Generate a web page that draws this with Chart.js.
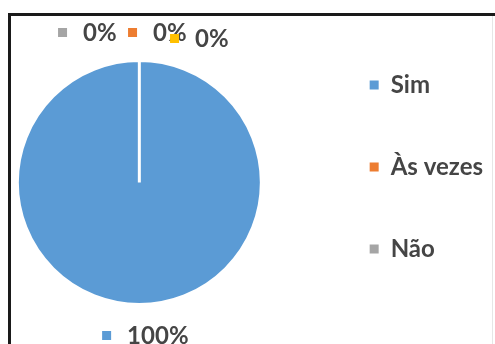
<!DOCTYPE html>
<html>
<head>
<meta charset="utf-8">
<script src="https://cdn.jsdelivr.net/npm/chart.js@4"></script>
<style>
  html, body { margin: 0; padding: 0; background: #fff; overflow: hidden; }
  body { width: 495px; height: 344px; position: relative; }
  #frame {
    position: absolute; left: 8px; top: 13px; width: 500px; height: 340px;
    border-top: 3px solid #1a1a1a; border-left: 3px solid #1a1a1a;
  }
  #edge { position: absolute; left: 492px; top: 16px; width: 1px; height: 328px; background: #e6e6e6; }
  #wrap { position: absolute; left: -33px; top: 0; width: 526px; height: 344px; }
</style>
</head>
<body>
<div id="frame"></div>
<div id="edge"></div>
<div id="wrap"><canvas id="pieChart" width="526" height="344"></canvas></div>
<script>
const categories = ['Sim', 'Às vezes', 'Não', ''];
const values = [100, 0, 0, 0];
const colors = ['#5b9bd5', '#ed7d31', '#a5a5a5', '#ffc000'];

// small nudges so the zero labels don't sit on top of each other (like Excel does)
const labelNudgeX = [6, 18, -52, 60];
const labelNudgeY = [3, 0, 0, 6];

const textFont = { family: 'Lato', size: 24, weight: 'bold' };
const textColor = '#454545';

const pctLabels = {
  id: 'pctLabels',
  afterDatasetsDraw(chart) {
    const ctx = chart.ctx;
    const meta = chart.getDatasetMeta(0);
    const total = values.reduce((a, b) => a + b, 0);
    ctx.save();
    ctx.font = 'bold 24px Lato';
    ctx.textBaseline = 'middle';
    ctx.textAlign = 'left';
    meta.data.forEach((arc, i) => {
      const p = arc.getProps(['x', 'y', 'startAngle', 'endAngle', 'outerRadius'], true);
      const mid = (p.startAngle + p.endAngle) / 2;
      const r = p.outerRadius + 28;
      const text = Math.round(values[i] / total * 100) + '%';
      const tw = ctx.measureText(text).width;
      const w = 9 + 16 + tw;
      const cx = p.x + Math.cos(mid) * r + labelNudgeX[i];
      const cy = p.y + Math.sin(mid) * r + labelNudgeY[i];
      const left = cx - w / 2;
      ctx.fillStyle = colors[i];
      ctx.fillRect(left, cy - 4.5, 9, 9);
      ctx.fillStyle = textColor;
      ctx.fillText(text, left + 25, cy + 1);
    });
    ctx.restore();
  }
};

new Chart(document.getElementById('pieChart'), {
  type: 'pie',
  data: {
    labels: categories,
    datasets: [{
      data: values,
      backgroundColor: colors,
      borderColor: '#ffffff',
      borderWidth: 3
    }]
  },
  options: {
    responsive: false,
    animation: false,
    layout: { padding: { left: 0, top: 12, right: 0, bottom: 22 } },
    plugins: {
      // empty title / subtitle only used as spacers around the pie
      title: { display: true, text: '', padding: 0, font: { size: 47, lineHeight: 1 } },
      subtitle: { display: true, text: '', position: 'bottom', padding: 0, font: { size: 16, lineHeight: 1 } },
      legend: {
        position: 'right',
        labels: {
          boxWidth: 9,
          boxHeight: 9,
          padding: 58,
          color: textColor,
          font: textFont,
          generateLabels: chart =>
            Chart.overrides.pie.plugins.legend.labels.generateLabels(chart)
              .filter(item => item.text !== '')
              .map(item => Object.assign(item, { lineWidth: 0 }))
        }
      },
      tooltip: { enabled: false }
    }
  },
  plugins: [pctLabels]
});
</script>
</body>
</html>
